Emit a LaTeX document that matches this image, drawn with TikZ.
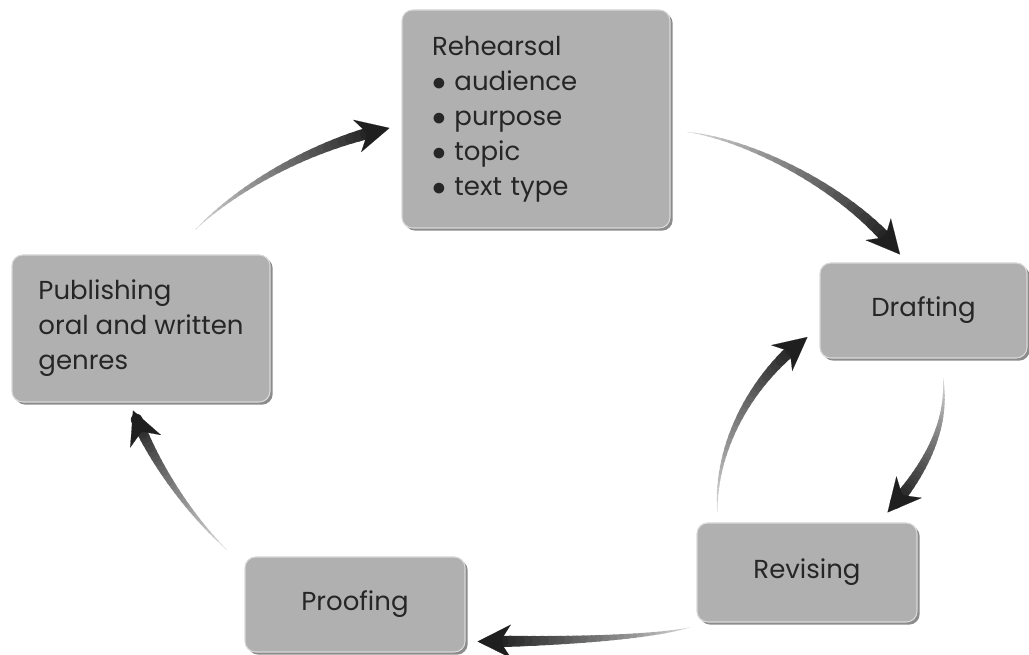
\documentclass[tikz,border=0pt]{standalone}
\usepackage{fontspec}
\setmainfont{Poppins}
\usetikzlibrary{positioning}
\usetikzlibrary{calc}
\usetikzlibrary{shadows}
\usetikzlibrary{arrows.meta}

\tikzset{
  stage/.style={draw=gray!30, line width=0.8pt, fill=gray!62, rounded corners=8pt,
    text=black!85, font=\fontsize{19.5}{26.25}\selectfont,
    drop shadow={shadow xshift=2pt, shadow yshift=-2pt, fill=black!45, opacity=1}},
}

\newcommand{\dotitem}{$\bullet$\ }

% tapered arrow: start, first control (relative to start), second control (relative to end), end
\newcommand{\cyclearrow}[4]{%
  \foreach \k [evaluate=\k as \t using \k/30] in {0,...,30}
    \path (#1) .. controls ($(#1)+(#2)$) and ($(#4)+(#3)$) .. (#4) coordinate[pos=\t] (s\k);
  \foreach \k [count=\m from 1, evaluate=\k as \tone using int(15+2.6*\k), evaluate=\k as \lw using 0.3+0.31*\k] in {0,...,27}
    \draw[line width=\lw*1pt, line cap=round, draw=black!\tone] (s\k) -- (s\m);
  \draw[black!88, line width=9pt, -{Stealth[length=25pt, width=25pt, inset=8pt, line width=0.1pt]}] (s27) -- (s30);
}

\begin{document}
\begin{tikzpicture}[x=0.75pt, y=0.75pt]
\useasboundingbox (0,0) rectangle (1029,655);
\fill[white] (0,0) rectangle (1029,655);%paper

%stages
\node[stage, minimum width=201pt, minimum height=163.5pt, text width=156pt, inner xsep=22.5pt, align=left] (rehearsal) at (536,536)
  {Rehearsal\\ \dotitem audience\\ \dotitem purpose\\ \dotitem topic\\ \dotitem text type};
\node[stage, minimum width=155.25pt, minimum height=71.25pt] (drafting) at (923.5,344.5) {Drafting};
\node[stage, minimum width=165pt, minimum height=74.25pt] (revising) at (807,82.5) {Revising};
\node[stage, minimum width=165pt, minimum height=71.25pt] (proofing) at (355,50.5) {Proofing};
\node[stage, minimum width=193.5pt, minimum height=110.25pt, align=left] (publishing) at (141,326.5)
  {Publishing\\ oral and written\\ genres};

%arrow ends
\coordinate (pubtail) at ([shift={(-75,25)}]publishing.north east);
\coordinate (rehhead) at ([shift={(-12,-9)}]rehearsal.west);
\coordinate (rehtail) at ([shift={(17,-13)}]rehearsal.east);
\coordinate (drahead) at ([shift={(-23.5,8)}]drafting.north);
\coordinate (dratail) at ([shift={(19.5,-19)}]drafting.south);
\coordinate (revhead) at ([shift={(-30,10)}]revising.north east);
\coordinate (revtail) at ([shift={(21,10)}]revising.north west);
\coordinate (backhead) at ([shift={(-12,-26.5)}]drafting.west);
\coordinate (revlow) at ([shift={(-7,-5)}]revising.south west);
\coordinate (proofhead) at ([shift={(12,11)}]proofing.south east);
\coordinate (prooftail) at ([shift={(-18,7)}]proofing.north west);
\coordinate (pubhead) at ([shift={(-8,-8)}]publishing.south);

%arrows
\cyclearrow{pubtail}{40,40}{-80,-17}{rehhead}
\cyclearrow{rehtail}{63,-8}{-50,65}{drahead}
\cyclearrow{dratail}{5,-43}{43,48}{revhead}
\cyclearrow{revtail}{-3,63}{-58,-43}{backhead}
\cyclearrow{revlow}{-40,-10}{83,0}{proofhead}
\cyclearrow{prooftail}{-42,40}{17,-45}{pubhead}

\end{tikzpicture}
\end{document}
